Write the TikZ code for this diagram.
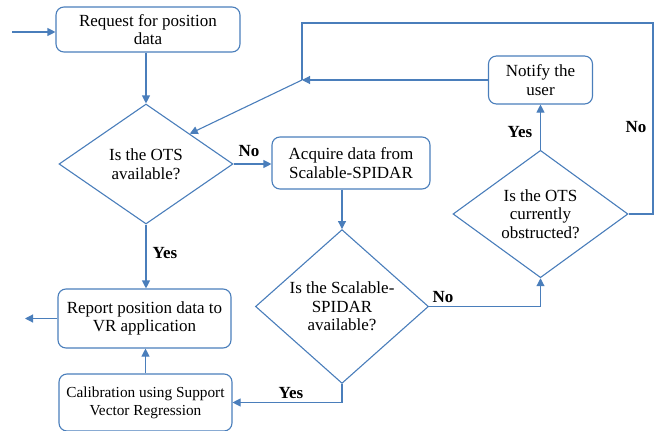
\documentclass[tikz,border=0pt]{standalone}
\usepackage{fontspec}
\setmainfont{Liberation Serif}
\newfontfamily\timesfont{Liberation Serif}
\usetikzlibrary{shapes.geometric,arrows.meta}
\definecolor{fblue}{RGB}{74,126,187}
\begin{document}
\begin{tikzpicture}[x=1pt,y=-1pt,
  every node/.style={font=\timesfont\fontsize{17}{18.5}\selectfont, align=center},
  procbox/.style={draw=fblue, line width=1.1pt, rounded corners=8pt, inner sep=0pt},
  decision/.style={draw=fblue, line width=1.1pt, shape=diamond, inner sep=0pt},
  conn/.style={draw=fblue, line width=1.1pt},
  arr/.style={conn, -{Triangle[length=8pt,width=8pt]}},
  lbl/.style={font=\timesfont\fontsize{17}{18.5}\selectfont\bfseries}]
\useasboundingbox (0,0) rectangle (657,431);
\node[procbox, minimum width=184pt, minimum height=45pt] (req) at (148,29.5) {Request for position\\data};
\node[decision, minimum width=174pt, minimum height=120pt] (d1) at (146,164) {Is the OTS\\available?};
\node[procbox, minimum width=158pt, minimum height=52pt] (acq) at (351,163) {Acquire data from\\Scalable-SPIDAR};
\node[decision, minimum width=173pt, minimum height=121pt] (d2) at (342,306.5) {Is the Scalable-\\SPIDAR\\available?};
\node[decision, minimum width=175pt, minimum height=118pt] (d3) at (540.5,214) {Is the OTS\\currently\\obstructed?};
\node[procbox, minimum width=104pt, minimum height=48pt] (notify) at (540.5,80) {Notify the\\user};
\node[procbox, minimum width=173pt, minimum height=59pt] (report) at (144.5,318.5) {Report position data to\\VR application};
\node[procbox, minimum width=173pt, minimum height=57pt, font=\timesfont\fontsize{15.3}{18}\selectfont] (calib) at (145.5,402.5) {Calibration using Support\\Vector Regression};
\coordinate (start) at (12,32);
\coordinate (out) at (25,318.5);
\coordinate (junc) at (302,80);
\coordinate (rtop) at (653,23);
\draw[arr] (start) -- (start -| req.west);
\draw[arr] (d1.north |- req.south) -- (d1.north);
\draw[arr] (d1.east) -- (d1.east -| acq.west);
\draw[arr] (d2.north |- acq.south) -- (d2.north);
\draw[arr] (d2.east) -| (d3.south);
\draw[arr] (d2.south) |- (calib.east);
\draw[arr] (d3.north) -- (notify.south);
\draw[arr] (notify.west) -- (junc);
\draw[arr] (junc) -- (d1.north east);
\draw[conn] (d3.east) -| (rtop) -| (junc);
\draw[arr] (d1.south) -- (d1.south |- report.north);
\draw[arr] (calib.north) -- (calib.north |- report.south);
\draw[arr] (report.west) -- (out);
\node[lbl] (no1) at (249,151) {No};
\node[lbl] (yes1) at (165,253) {Yes};
\node[lbl] (no2) at (443,297) {No};
\node[lbl] (yes2) at (291,393) {Yes};
\node[lbl] (yes3) at (520,132) {Yes};
\node[lbl] (no3) at (636,127) {No};
\end{tikzpicture}
\end{document}
